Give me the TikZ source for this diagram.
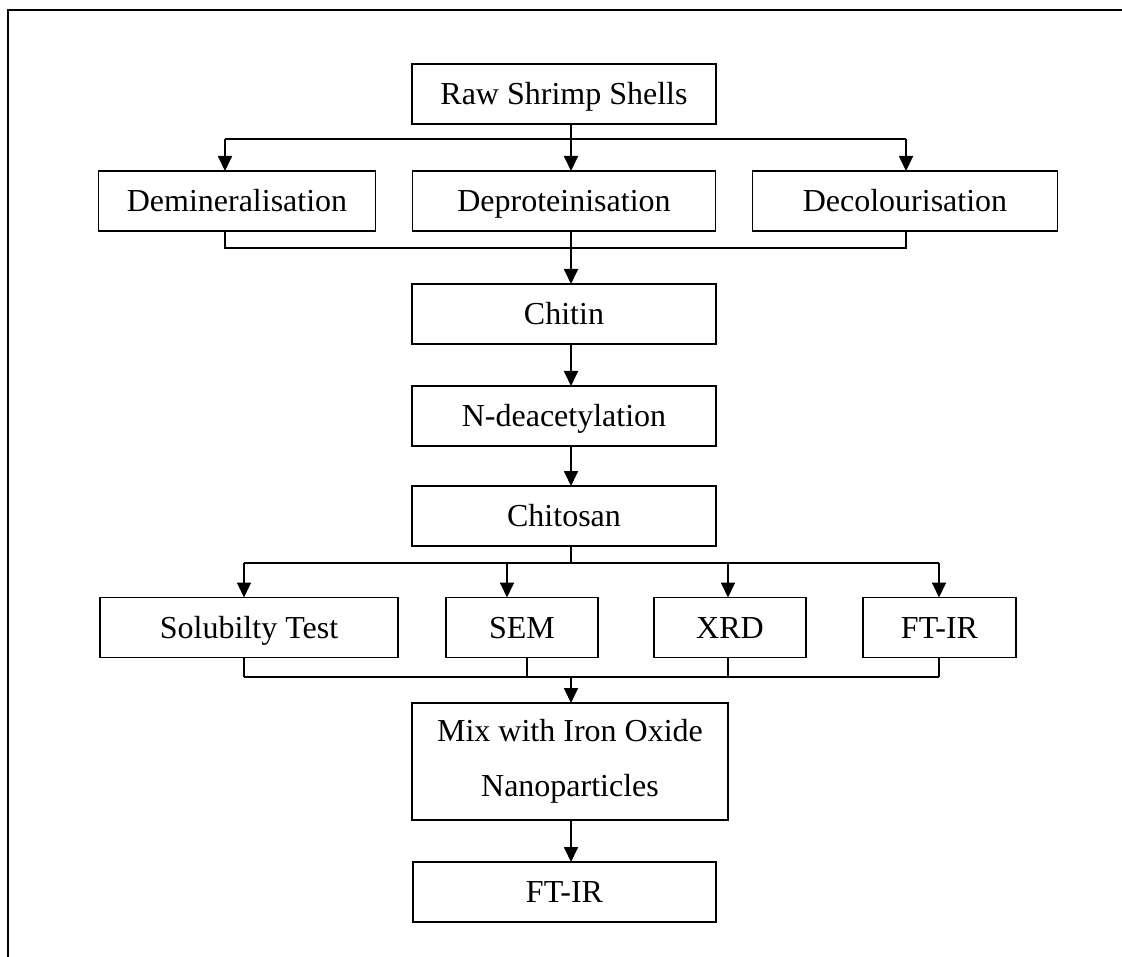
\documentclass[tikz,border=0pt]{standalone}
\usepackage{fontspec}
\setmainfont{Liberation Serif}
\usetikzlibrary{positioning,arrows.meta}

\tikzset{
  stage/.style={rectangle, draw, line width=1.8pt, minimum height=60pt, inner sep=2pt, outer sep=0pt, text height=24pt, text depth=3pt, font=\fontsize{32}{38}\selectfont},
  link/.style={line width=1.8pt},
  flow/.style={link, -{Triangle[length=15pt,width=14pt]}},
}

\begin{document}
\begin{tikzpicture}[x=1pt, y=-1pt]
	\useasboundingbox (0,0) rectangle (1122,957);
	\draw[line width=2.6pt] (1122,10) -- (8,10) -- (8,957);

	\node[stage, minimum width=304pt] (raw) at (564,94) {Raw Shrimp Shells};
	\node[stage, minimum width=303pt, below=47pt of raw] (deprot) {Deproteinisation};
	\node[stage, minimum width=277pt, left=37pt of deprot] (demin) {Demineralisation};
	\node[stage, minimum width=305pt, right=37pt of deprot] (decol) {Decolourisation};
	\node[stage, minimum width=304pt, below=53pt of deprot] (chitin) {Chitin};
	\node[stage, minimum width=304pt, below=42pt of chitin] (ndeac) {N-deacetylation};
	\node[stage, minimum width=304pt, below=40pt of ndeac] (chitosan) {Chitosan};

	\node[stage, minimum width=298pt] (solub) at (249,627.5) {Solubilty Test};
	\node[stage, minimum width=152pt, right=48pt of solub] (sem) {SEM};
	\node[stage, minimum width=152pt, right=56pt of sem] (xrd) {XRD};
	\node[stage, minimum width=153pt, right=57pt of xrd] (ftir) {FT-IR};

	\node[stage, minimum width=316pt, minimum height=117pt, align=center, text height=, text depth=, font=\fontsize{32}{55}\selectfont] (mix) at (570,761.5) {Mix with Iron Oxide\\Nanoparticles};
	\node[stage, minimum width=303pt, below=42pt of mix, xshift=-5.5pt] (ftirb) {FT-IR};

	\coordinate (spine) at (571,0);
	\coordinate (fork1) at (571,139);
	\coordinate (fork1l) at (225,139);
	\coordinate (fork1r) at (906,139);
	\coordinate (join1) at (571,248);
	\coordinate (join1l) at (225,248);
	\coordinate (join1r) at (906,248);
	\coordinate (fork2) at (571,563);
	\coordinate (fork2a) at (244,563);
	\coordinate (fork2b) at (507,563);
	\coordinate (fork2c) at (728,563);
	\coordinate (fork2d) at (939,563);
	\coordinate (join2) at (571,677);
	\coordinate (join2a) at (244,677);
	\coordinate (join2b) at (527,677);
	\coordinate (join2c) at (728,677);
	\coordinate (join2d) at (939,677);

	\draw[link] (raw.south -| fork1) -- (fork1);
	\draw[link] (fork1l) -- (fork1r);
	\draw[flow] (fork1l) -- (fork1l |- demin.north);
	\draw[flow] (fork1) -- (fork1 |- deprot.north);
	\draw[flow] (fork1r) -- (fork1r |- decol.north);

	\draw[link] (demin.south -| join1l) -- (join1l) -- (join1r) -- (decol.south -| join1r);
	\draw[flow] (deprot.south -| join1) -- (chitin.north -| join1);
	\draw[flow] (chitin.south -| spine) -- (ndeac.north -| spine);
	\draw[flow] (ndeac.south -| spine) -- (chitosan.north -| spine);

	\draw[link] (chitosan.south -| fork2) -- (fork2);
	\draw[link] (fork2a) -- (fork2d);
	\foreach \c/\n in {fork2a/solub, fork2b/sem, fork2c/xrd, fork2d/ftir}
		\draw[flow] (\c) -- (\c |- \n.north);

	\draw[link] (join2a) -- (join2d);
	\foreach \c/\n in {join2a/solub, join2b/sem, join2c/xrd, join2d/ftir}
		\draw[link] (\n.south -| \c) -- (\c);
	\draw[flow] (join2) -- (join2 |- mix.north);
	\draw[flow] (mix.south -| spine) -- (ftirb.north -| spine);
\end{tikzpicture}
\end{document}
